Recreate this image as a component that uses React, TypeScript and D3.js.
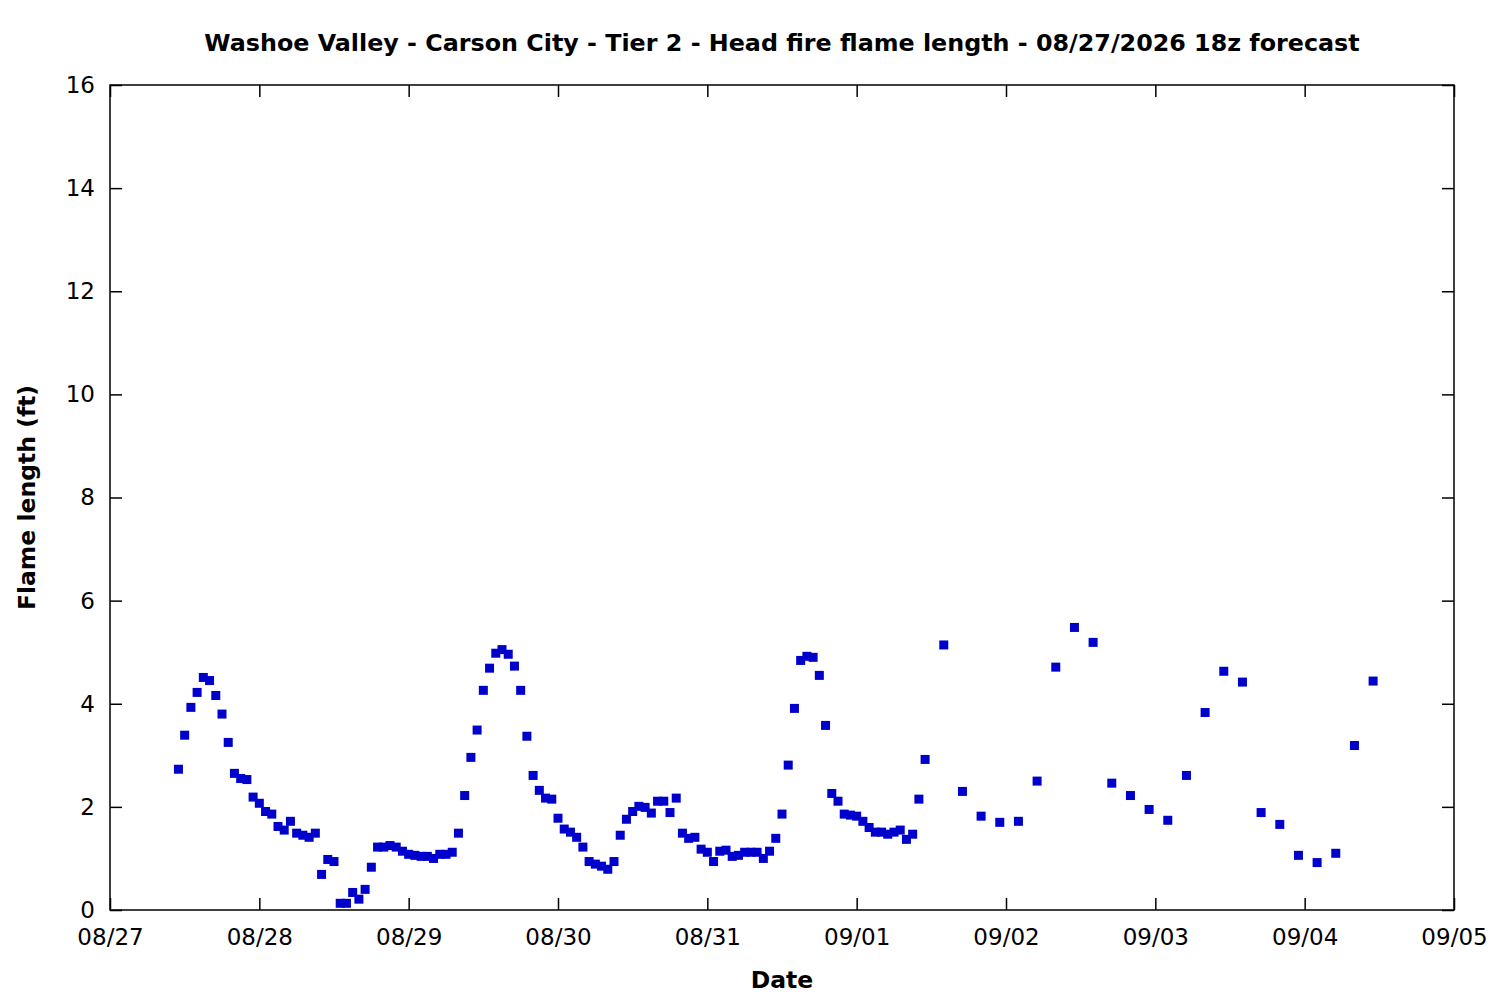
import React, { useEffect, useRef } from 'react';
import * as d3 from 'd3';

// hourly forecast, first value at 08/27 11z
const hourlyStart = '2026-08-27T11:00:00Z';
const hourlyFlame = [
  2.73, 3.39, 3.93, 4.22, 4.51, 4.45, 4.16, 3.80, 3.25, 2.65,
  2.55, 2.53, 2.19, 2.07, 1.91, 1.86, 1.62, 1.55, 1.72, 1.49,
  1.45, 1.41, 1.49, 0.69, 0.98, 0.94, 0.13, 0.13, 0.34, 0.21,
  0.40, 0.83, 1.22, 1.22, 1.25, 1.22, 1.14, 1.08, 1.06, 1.04,
  1.04, 1.00, 1.08, 1.08, 1.12, 1.49, 2.22, 2.96, 3.49, 4.26,
  4.69, 4.98, 5.05, 4.96, 4.73, 4.26, 3.37, 2.61, 2.32, 2.17,
  2.15, 1.78, 1.57, 1.51, 1.41, 1.22, 0.94, 0.89, 0.85, 0.79,
  0.94, 1.45, 1.76, 1.91, 2.01, 1.99, 1.88, 2.11, 2.11, 1.89,
  2.17, 1.49, 1.39, 1.41, 1.18, 1.12, 0.94, 1.14, 1.16, 1.04,
  1.06, 1.12, 1.12, 1.12, 1.00, 1.14, 1.39, 1.86, 2.81, 3.91,
  4.84, 4.92, 4.90, 4.55, 3.58, 2.26, 2.11, 1.86, 1.84, 1.82,
  1.72, 1.60, 1.51, 1.51, 1.47, 1.51, 1.55, 1.37, 1.47, 2.15,
  2.92
];

// 3-hourly forecast, first value at 09/01 14z
const threeHourlyStart = '2026-09-01T14:00:00Z';
const threeHourlyFlame = [
  5.14, 2.30, 1.82, 1.70, 1.72, 2.50, 4.71, 5.48, 5.19, 2.46,
  2.22, 1.95, 1.74, 2.61, 3.83, 4.63, 4.42, 1.89, 1.66, 1.06,
  0.92, 1.10, 3.19, 4.44
];

const xDomain = ['2026-08-27T00:00:00Z', '2026-09-05T00:00:00Z'];
const yTicks = [0, 2, 4, 6, 8, 10, 12, 14, 16];

const HOUR = 3600 * 1000;

export default function App() {
  const svgRef = useRef<SVGSVGElement>(null);

  useEffect(() => {
    document.body.style.margin = '0';
    if (!svgRef.current) return;

    d3.select(svgRef.current).selectAll('*').remove();

    const margin = { top: 85, right: 46, bottom: 90, left: 110 };
    const width = 1500 - margin.left - margin.right;
    const height = 1000 - margin.top - margin.bottom;
    const font = "'DejaVu Sans', sans-serif";

    const points = [
      ...hourlyFlame.map((v, i) => ({ t: new Date(Date.parse(hourlyStart) + i * HOUR), v })),
      ...threeHourlyFlame.map((v, i) => ({ t: new Date(Date.parse(threeHourlyStart) + i * 3 * HOUR), v }))
    ];

    const svg = d3.select(svgRef.current)
      .attr('width', 1500)
      .attr('height', 1000);

    svg.append('rect')
      .attr('width', 1500)
      .attr('height', 1000)
      .attr('fill', '#fff');

    const g = svg.append('g')
      .attr('transform', `translate(${margin.left},${margin.top})`);

    const x = d3.scaleUtc()
      .domain(xDomain.map(d => new Date(d)))
      .range([0, width]);

    const y = d3.scaleLinear()
      .domain([0, 16])
      .range([height, 0]);

    const tick = 12;

    // bottom axis
    const xAxis = g.append('g')
      .attr('transform', `translate(0,${height})`)
      .call(d3.axisBottom(x)
        .ticks(d3.utcDay.every(1))
        .tickFormat(d => d3.utcFormat('%m/%d')(d as Date))
        .tickSizeInner(-tick)
        .tickSizeOuter(0)
        .tickPadding(19));

    // left axis
    const yAxis = g.append('g')
      .call(d3.axisLeft(y)
        .tickValues(yTicks)
        .tickFormat(d3.format('d'))
        .tickSizeInner(-tick)
        .tickSizeOuter(0)
        .tickPadding(15));

    // mirrored ticks
    const topAxis = g.append('g')
      .call(d3.axisTop(x)
        .ticks(d3.utcDay.every(1))
        .tickFormat(() => '')
        .tickSizeInner(-tick)
        .tickSizeOuter(0));

    const rightAxis = g.append('g')
      .attr('transform', `translate(${width},0)`)
      .call(d3.axisRight(y)
        .tickValues(yTicks)
        .tickFormat(() => '')
        .tickSizeInner(-tick)
        .tickSizeOuter(0));

    [xAxis, yAxis, topAxis, rightAxis].forEach(a => {
      a.select('.domain').remove();
      a.attr('font-family', font).attr('font-size', 23);
      a.selectAll('line').attr('stroke', '#000').attr('stroke-width', 1.5);
      a.selectAll('text').attr('fill', '#000');
    });

    // frame
    g.append('rect')
      .attr('width', width)
      .attr('height', height)
      .attr('fill', 'none')
      .attr('stroke', '#000')
      .attr('stroke-width', 1.5);

    // points
    const s = 9;
    g.append('g')
      .selectAll('rect')
      .data(points)
      .enter()
      .append('rect')
      .attr('x', d => x(d.t) - s / 2)
      .attr('y', d => y(d.v) - s / 2)
      .attr('width', s)
      .attr('height', s)
      .attr('fill', '#0000cc');

    // title
    svg.append('text')
      .attr('x', margin.left + width / 2)
      .attr('y', 51)
      .attr('text-anchor', 'middle')
      .attr('font-family', font)
      .attr('font-weight', 'bold')
      .attr('font-size', 23.8)
      .text('Washoe Valley - Carson City - Tier 2 - Head fire flame length - 08/27/2026 18z forecast');

    // axis titles
    svg.append('text')
      .attr('x', margin.left + width / 2)
      .attr('y', 988)
      .attr('text-anchor', 'middle')
      .attr('font-family', font)
      .attr('font-weight', 'bold')
      .attr('font-size', 23.5)
      .text('Date');

    svg.append('text')
      .attr('transform', `translate(35,${margin.top + height / 2}) rotate(-90)`)
      .attr('text-anchor', 'middle')
      .attr('font-family', font)
      .attr('font-weight', 'bold')
      .attr('font-size', 23.5)
      .text('Flame length (ft)');
  }, []);

  return (
    <div>
      <svg ref={svgRef} style={{ display: 'block' }}></svg>
    </div>
  );
}
